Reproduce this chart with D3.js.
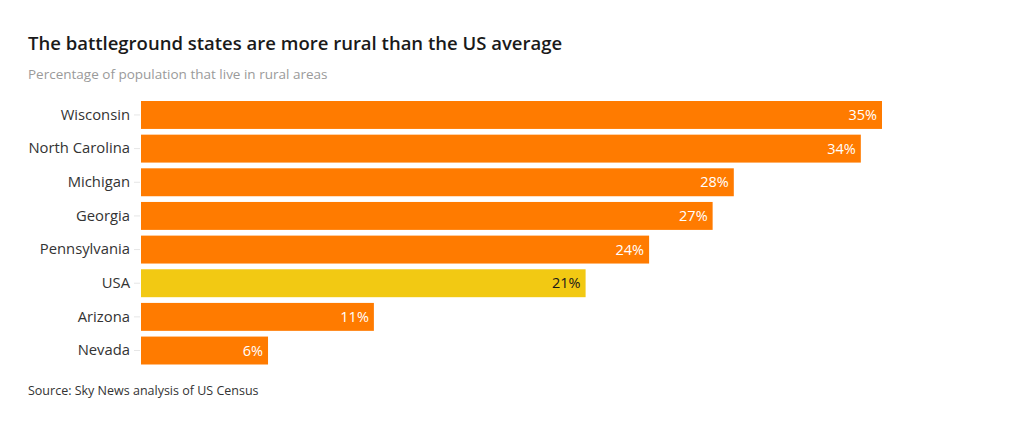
<!DOCTYPE html>
<html><head><meta charset="utf-8">
<script src="https://cdn.jsdelivr.net/npm/d3@7"></script>
<style>body{margin:0;background:#fff;font-family:"Open Sans",sans-serif;}</style>
</head><body>
<svg id="c" width="1020" height="426"></svg>
<script>
const states = ["Wisconsin","North Carolina","Michigan","Georgia","Pennsylvania","USA","Arizona","Nevada"];
const values = [35,34,28,27,24,21,11,6];
const highlight = ["USA"];

const F = "'Open Sans',sans-serif";
const svg = d3.select("#c").attr("font-family",F);
svg.append("rect").attr("width",1020).attr("height",426).attr("fill","#fff");
svg.append("text").attr("x",28).attr("y",50).attr("font-size",18.5).attr("font-weight",600).attr("fill","#1a1a1a").text("The battleground states are more rural than the US average");
svg.append("text").attr("x",28).attr("y",79).attr("font-size",13.5).attr("fill","#9a9a9a").text("Percentage of population that live in rural areas");

const x = d3.scaleLinear().domain([0,35]).range([141,882]);
const y = d3.scaleBand().domain(states).range([101,364.5]).paddingInner(0.17).paddingOuter(0);

const yAxis = svg.append("g").attr("transform","translate(140,0)").call(d3.axisLeft(y).tickSize(6).tickPadding(4));
yAxis.select(".domain").remove();
yAxis.selectAll("line").attr("stroke","#e6e6e6");
yAxis.selectAll("text").attr("font-size",14.8).attr("fill","#333").attr("font-family",F);

svg.selectAll("rect.bar").data(states).join("rect").attr("class","bar")
  .attr("x",x(0)).attr("y",d=>y(d)).attr("height",y.bandwidth())
  .attr("width",(d,i)=>x(values[i])-x(0))
  .attr("fill",d=>highlight.includes(d)?"#f2c913":"#ff7b00");

svg.selectAll("text.val").data(states).join("text").attr("class","val")
  .attr("x",(d,i)=>x(values[i])-5).attr("y",d=>y(d)+y.bandwidth()/2).attr("dy","0.35em")
  .attr("text-anchor","end").attr("font-size",14.5)
  .attr("fill",d=>highlight.includes(d)?"#1a1a1a":"#fff")
  .text((d,i)=>values[i]+"%");

svg.append("text").attr("x",28).attr("y",395).attr("font-size",12.5).attr("fill","#333").text("Source: Sky News analysis of US Census");
</script>
</body></html>
